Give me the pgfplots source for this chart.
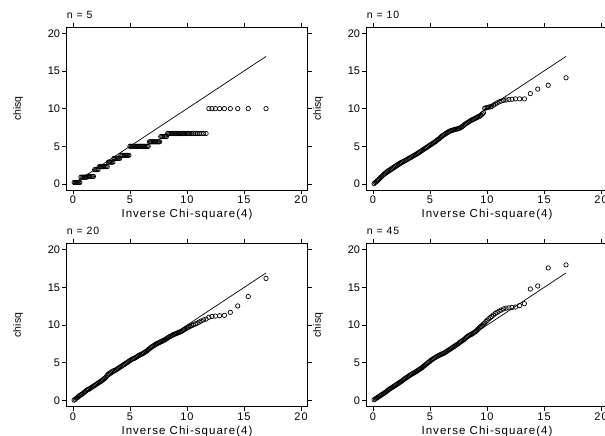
\documentclass[border=0pt]{standalone}
\usepackage{fontspec}
\setmainfont{Liberation Sans}
\newfontfamily\spaced{Liberation Sans}[LetterSpace=9]
\usepackage{pgfplots}
\usepackage{pgfplotstable}
\pgfplotsset{compat=1.18}

\pgfplotstableread{
x n5 n10 n20 n45
0.1 0.2 0.05 0.05 0.1
0.2 0.2 0.2 0.15 0.2
0.3 0.2 0.3 0.3 0.3
0.4 0.2 0.45 0.4 0.4
0.5 0.2 0.6 0.55 0.5
0.6 0.2 0.75 0.65 0.6
0.7 0.9 0.9 0.75 0.7
0.8 0.9 1.05 0.85 0.8
0.9 0.9 1.2 0.95 0.9
1.0 0.9 1.35 1.1 1.0
1.1 0.9 1.45 1.2 1.1
1.2 0.9 1.6 1.35 1.2
1.3 1.0 1.7 1.45 1.35
1.4 1.0 1.8 1.5 1.45
1.5 1.0 1.9 1.6 1.55
1.6 1.0 2.0 1.7 1.65
1.7 1.0 2.1 1.8 1.75
1.8 1.0 2.2 1.9 1.85
1.9 1.9 2.3 2.0 1.95
2.0 1.9 2.4 2.1 2.05
2.1 1.9 2.5 2.2 2.15
2.2 1.9 2.6 2.3 2.25
2.3 2.3 2.7 2.4 2.35
2.4 2.3 2.8 2.5 2.45
2.5 2.3 2.85 2.6 2.55
2.6 2.3 2.95 2.7 2.65
2.7 2.3 3.0 2.85 2.8
2.8 2.3 3.1 2.95 2.9
2.9 2.3 3.15 3.1 3.0
3.0 2.3 3.25 3.35 3.1
3.1 2.9 3.35 3.5 3.2
3.2 2.9 3.45 3.6 3.3
3.3 2.9 3.5 3.7 3.4
3.4 2.9 3.6 3.8 3.5
3.5 2.9 3.7 3.9 3.6
3.6 3.4 3.8 3.95 3.65
3.7 3.4 3.85 4.0 3.75
3.8 3.4 3.95 4.1 3.85
3.9 3.4 4.05 4.2 3.95
4.0 3.4 4.15 4.3 4.05
4.1 3.4 4.25 4.4 4.15
4.2 3.8 4.35 4.5 4.25
4.3 3.8 4.45 4.6 4.35
4.4 3.8 4.55 4.7 4.5
4.5 3.8 4.65 4.8 4.6
4.6 3.8 4.75 4.9 4.75
4.7 3.8 4.85 5.0 4.85
4.8 3.8 4.95 5.1 5.0
4.9 3.8 5.05 5.2 5.1
5.0 5.0 5.15 5.3 5.2
5.1 5.0 5.25 5.4 5.35
5.2 5.0 5.35 5.5 5.45
5.3 5.0 5.45 5.55 5.55
5.4 5.0 5.55 5.6 5.65
5.5 5.0 5.65 5.7 5.75
5.6 5.0 5.8 5.8 5.85
5.7 5.0 5.9 5.9 5.9
5.8 5.0 6.0 6.0 6.0
5.9 5.0 6.15 6.05 6.05
6.0 5.0 6.3 6.15 6.15
6.1 5.0 6.4 6.2 6.2
6.2 5.0 6.5 6.3 6.25
6.3 5.0 6.6 6.4 6.35
6.4 5.0 6.7 6.5 6.45
6.5 5.0 6.8 6.6 6.55
6.6 5.0 6.9 6.75 6.65
6.7 5.6 7.0 6.85 6.75
6.8 5.6 7.05 7.0 6.85
6.9 5.6 7.1 7.1 6.95
7.0 5.6 7.15 7.2 7.05
7.1 5.6 7.2 7.3 7.15
7.2 5.6 7.25 7.4 7.25
7.3 5.6 7.3 7.5 7.35
7.4 5.6 7.3 7.55 7.45
7.5 5.6 7.35 7.65 7.55
7.6 5.6 7.4 7.7 7.7
7.7 6.3 7.5 7.8 7.8
7.8 6.3 7.6 7.85 7.9
7.9 6.3 7.7 7.95 8.0
8.0 6.3 7.85 8.0 8.1
8.1 6.3 7.95 8.1 8.25
8.2 6.3 8.05 8.2 8.4
8.3 6.7 8.15 8.3 8.5
8.4 6.7 8.25 8.4 8.6
8.5 6.7 8.35 8.5 8.7
8.6 6.7 8.45 8.55 8.75
8.7 6.7 8.5 8.65 8.85
8.8 6.7 8.6 8.75 8.95
8.9 6.7 8.65 8.8 9.05
9.0 6.7 8.75 8.85 9.15
9.1 6.7 8.8 8.9 9.3
9.2 6.7 8.9 9.0 9.45
9.3 6.7 8.95 9.05 9.6
9.4 6.7 9.05 9.1 9.75
9.49 6.7 9.15 9.15 9.85
9.59 6.7 9.3 9.25 10.0
9.69 6.7 9.45 9.35 10.15
9.80 6.7 10.05 9.45 10.3
9.91 6.7 10.1 9.55 10.5
10.03 6.7 10.15 9.65 10.65
10.15 6.7 10.2 9.75 10.85
10.28 6.7 10.25 9.85 11.0
10.42 6.7 10.3 9.95 11.15
10.56 6.7 10.45 10.05 11.35
10.72 6.7 10.6 10.15 11.55
10.88 6.7 10.75 10.25 11.7
11.06 6.7 10.9 10.4 11.85
11.24 6.7 11.0 10.55 12.0
11.45 6.7 11.1 10.7 12.15
11.67 6.7 11.15 10.8 12.25
11.92 10.0 11.2 11.05 12.3
12.19 10.0 11.25 11.15 12.35
12.50 10.0 11.3 11.2 12.4
12.86 10.0 11.3 11.25 12.6
13.28 10.0 11.3 11.3 12.85
13.80 10.0 12.0 11.7 14.8
14.45 10.0 12.6 12.55 15.2
15.37 10.0 13.1 13.8 17.6
16.93 10.0 14.1 16.2 18.0
}\qqdata

\pgfplotsset{
  qq/.style={
    scale only axis, width=240.6pt, height=162.7pt,
    anchor=south west,
    xmin=-0.55, xmax=20.55, ymin=-0.8, ymax=20.8,
    xtick={0,5,10,15,20}, ytick={0,5,10,15,20},
    xticklabel pos=lower, yticklabel pos=left,
    xtick pos=both, ytick pos=both,
    tick align=outside,
    major tick length=4.5pt,
    axis line style={line width=0.8pt, black},
    every tick/.style={line width=0.8pt, black},
    /pgf/number format/assume math mode=true,
    xticklabel style={font=\spaced\fontsize{11}{12}\selectfont, inner sep=1.5pt},
    yticklabel style={font=\fontsize{11}{12}\selectfont, inner sep=2pt},
    xlabel={Inverse Chi-square(4)},
    ylabel={chisq},
    xlabel style={font=\spaced\fontsize{11.5}{12}\selectfont, inner sep=0pt, yshift=-3.5pt},
    every axis y label/.style={at={([xshift=-48.5pt]rel axis cs:0,0.5)}, rotate=90, anchor=center, font=\fontsize{10.5}{11}\selectfont},
    title style={at={(0,1)}, anchor=base west, yshift=3pt, inner sep=0pt, font=\spaced\fontsize{10.5}{11}\selectfont},
  },
  pts/.style={only marks, mark=o, mark size=2.2pt, mark options={line width=0.7pt, black}},
  ref/.style={black, line width=0.7pt},
}

\begin{document}
\begin{tikzpicture}
\useasboundingbox (0,0) rectangle (605pt,436pt);
\begin{axis}[qq, at={(66.7pt,246pt)}, title={n = 5}]
  \addplot[ref] coordinates {(0.13,0.13) (16.93,16.93)};
  \addplot[pts] table[x=x, y=n5] {\qqdata};
\end{axis}
\begin{axis}[qq, at={(366.7pt,246pt)}, title={n = 10}]
  \addplot[ref] coordinates {(0.13,0.13) (16.93,16.93)};
  \addplot[pts] table[x=x, y=n10] {\qqdata};
\end{axis}
\begin{axis}[qq, at={(66.7pt,29.5pt)}, title={n = 20}]
  \addplot[ref] coordinates {(0.13,0.13) (16.93,16.93)};
  \addplot[pts] table[x=x, y=n20] {\qqdata};
\end{axis}
\begin{axis}[qq, at={(366.7pt,29.5pt)}, title={n = 45}]
  \addplot[ref] coordinates {(0.13,0.13) (16.93,16.93)};
  \addplot[pts] table[x=x, y=n45] {\qqdata};
\end{axis}
\end{tikzpicture}
\end{document}
